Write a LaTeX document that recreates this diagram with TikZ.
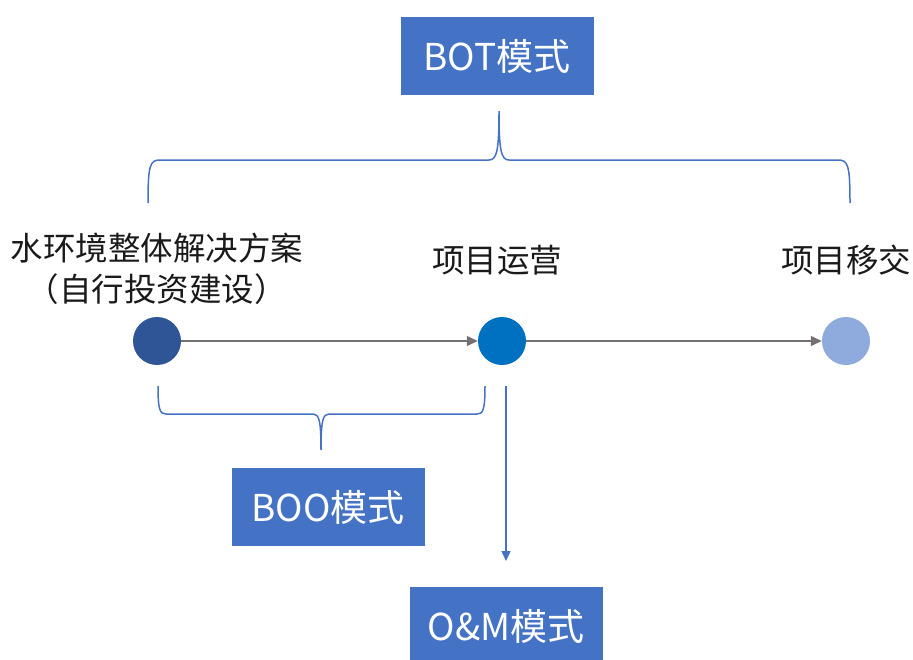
\documentclass[tikz,border=0pt]{standalone}
\usepackage{fontspec}
\setmainfont{Noto Sans CJK SC}
\usetikzlibrary{arrows.meta}
\definecolor{boxblue}{HTML}{4472C4}
\definecolor{darkdot}{HTML}{2F5597}
\definecolor{middot}{HTML}{0070C0}
\definecolor{lightdot}{HTML}{8FAADC}
\definecolor{arrowgray}{HTML}{767171}
\definecolor{textgray}{HTML}{1A1A1A}

\begin{document}
\begin{tikzpicture}[x=1pt,y=-1pt,
	modebox/.style={rectangle,fill=boxblue,text=white,minimum width=193pt,minimum height=78pt,font=\fontsize{37}{42}\selectfont},
	stage/.style={circle,minimum size=48pt,inner sep=0pt},
	steplabel/.style={text=textgray,align=center,font=\fontsize{32.5}{41}\selectfont},
	flow/.style={arrowgray,line width=1.2pt,-{Triangle[length=11pt,width=10pt]}},
	bracket/.style={boxblue,line width=1.5pt}]
\clip (0,0) rectangle (913,659);
\node [modebox] (bot) at (497,56) {BOT模式};
\node [modebox] (boo) at (328,507) {BOO模式};
\node [modebox] (om) at (506,626) {O\&M模式};
\node [stage,fill=darkdot] (build) at (157,341) {};
\node [stage,fill=middot] (run) at (502,341) {};
\node [stage,fill=lightdot] (hand) at (846,341) {};
\node [steplabel] (buildtxt) at (157,269) {水环境整体解决方案\\（自行投资建设）};
\node [steplabel] (runtxt) at (497,260) {项目运营};
\node [steplabel] (handtxt) at (846,260) {项目移交};
\draw [flow] (build) -- (run);
\draw [flow] (run) -- (hand);
\coordinate (omtop) at (506,386);
\coordinate (omtip) at (506,561);
\draw [boxblue,line width=1.5pt,-{Triangle[length=10pt,width=9pt]}] (omtop) -- (omtip);
% upper bracket
\draw [bracket] (148,203) .. controls (148,165) and (150,160) .. (160,160) -- (489,160)
	.. controls (497,160) and (499,150) .. (499,111)
	.. controls (499,150) and (501,160) .. (509,160) -- (838,160)
	.. controls (848,160) and (850,165) .. (850,203);
% lower bracket
\draw [bracket] (158,386) .. controls (158,410) and (160,414) .. (166,414) -- (313,414)
	.. controls (319,414) and (321,420) .. (321,450)
	.. controls (321,420) and (323,414) .. (329,414) -- (477,414)
	.. controls (483,414) and (485,410) .. (485,386);
\end{tikzpicture}
\end{document}
